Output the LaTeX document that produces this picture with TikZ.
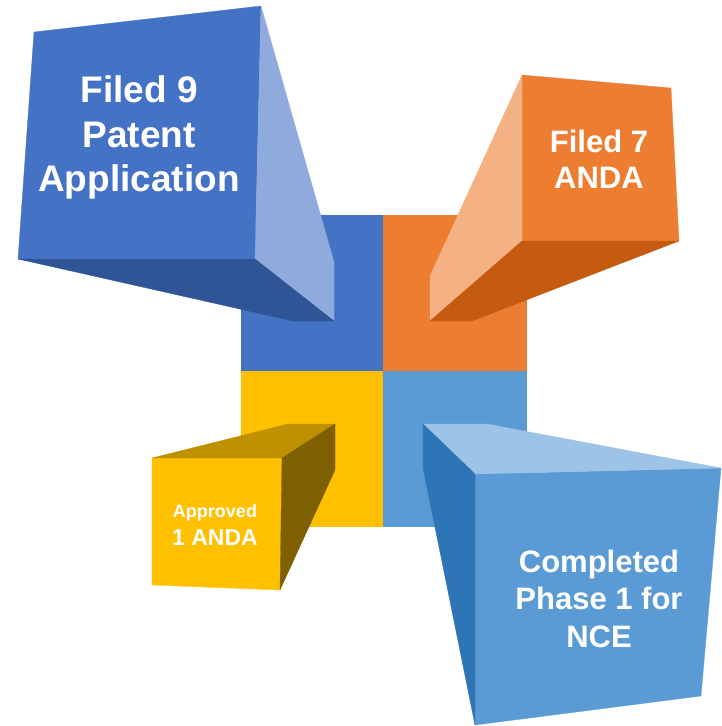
\documentclass[tikz,border=0pt]{standalone}
\usepackage{fontspec}
\setmainfont{Liberation Sans}
\definecolor{bMain}{HTML}{4472C4}
\definecolor{bLight}{HTML}{8FAADC}
\definecolor{bDark}{HTML}{2F5597}
\definecolor{oMain}{HTML}{ED7D31}
\definecolor{oLight}{HTML}{F4B183}
\definecolor{oDark}{HTML}{C55A11}
\definecolor{yMain}{HTML}{FFC000}
\definecolor{yTop}{HTML}{BF9000}
\definecolor{ySide}{HTML}{7F6000}
\definecolor{lMain}{HTML}{5B9BD5}
\definecolor{lTop}{HTML}{9DC3E6}
\definecolor{lSide}{HTML}{2E75B6}
\tikzset{
  face/.style={fill=#1, draw=#1, line width=0.3pt, line join=round},
  lbl/.style={text=white, font=\bfseries, align=center, inner sep=0pt, anchor=north}
}
\begin{document}
\begin{tikzpicture}[x=1pt,y=-1pt]
\useasboundingbox (0,0) rectangle (721,726);
% central squares
\fill[bMain] (241,215) rectangle (383,371);
\fill[oMain] (383,215) rectangle (527,371);
\fill[yMain] (241,371) rectangle (383,527);
\fill[lMain] (383,371) rectangle (527,527);
% blue box
\path[face=bMain] (34,32) -- (261,6) -- (255,259) -- (18,259) -- cycle;
\path[face=bLight] (261,6) -- (334,262) -- (334,321) -- (255,259) -- cycle;
\path[face=bDark] (18,259) -- (255,259) -- (334,321) -- (293,321) -- cycle;
% orange box
\path[face=oMain] (522,75) -- (671,88) -- (679,241) -- (522,241) -- cycle;
\path[face=oLight] (522,75) -- (430,276) -- (430,321) -- (522,241) -- cycle;
\path[face=oDark] (522,241) -- (679,241) -- (472,321) -- (430,321) -- cycle;
% yellow box
\path[face=yMain] (152,458) -- (282,458) -- (280,590) -- (152,585) -- cycle;
\path[face=yTop] (152,458) -- (288,424) -- (335,424) -- (282,458) -- cycle;
\path[face=ySide] (282,458) -- (335,424) -- (335,470) -- (280,590) -- cycle;
% light blue box
\path[face=lMain] (475,474) -- (721,468) -- (701,696) -- (475,725) -- cycle;
\path[face=lTop] (423,424) -- (487,424) -- (721,468) -- (475,474) -- cycle;
\path[face=lSide] (423,424) -- (475,474) -- (475,725) -- (423,468) -- cycle;
% labels
\node[lbl, font=\bfseries\fontsize{37}{44.5}\selectfont] (t1) at (139,75.5) {Filed 9\\Patent\\Application};
\node[lbl, font=\bfseries\fontsize{31}{36}\selectfont] (t2) at (599,129.5) {Filed 7\\ANDA};
\node[lbl, font=\bfseries\fontsize{18}{28}\selectfont] (t3) at (215,504) {Approved\\\fontsize{23}{28}\selectfont 1 ANDA};
\node[lbl, font=\bfseries\fontsize{31}{37.5}\selectfont] (t4) at (599,549.5) {Completed\\Phase 1 for\\NCE};
\end{tikzpicture}
\end{document}
